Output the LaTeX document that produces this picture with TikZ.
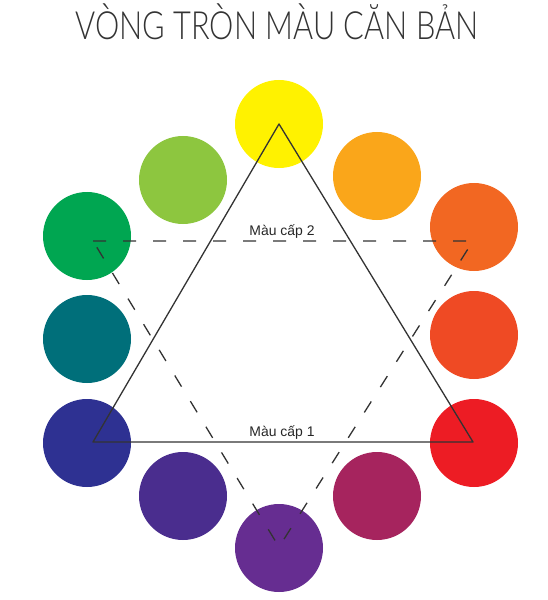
\documentclass[tikz,border=0pt]{standalone}
\usepackage{fontspec}
\setmainfont{Liberation Sans}
\newfontfamily\titlefont{Lato Light}[FakeStretch=0.79]
\definecolor{cyellow}{HTML}{FFF200}
\definecolor{cyellowgreen}{HTML}{8DC63F}
\definecolor{corange}{HTML}{FAA61A}
\definecolor{corangered}{HTML}{F26722}
\definecolor{credorange}{HTML}{EF4A24}
\definecolor{cred}{HTML}{ED1C24}
\definecolor{cmagenta}{HTML}{A6245E}
\definecolor{cpurple}{HTML}{662D91}
\definecolor{cviolet}{HTML}{4A2D8E}
\definecolor{cblue}{HTML}{2E3192}
\definecolor{cteal}{HTML}{006F7A}
\definecolor{cgreen}{HTML}{00A651}
\begin{document}
\begin{tikzpicture}[x=1bp,y=-1bp,line join=round,line cap=round,
	dot/.style={circle,minimum size=88bp,inner sep=0pt,draw=none},
	edge/.style={draw=black!80,line width=1.3bp},
	dash edge/.style={draw=black!80,line width=1.3bp,line cap=butt,dash pattern=on 13bp off 17bp},
	lbl/.style={font=\fontsize{14}{14}\selectfont,text=black!85}]
		\useasboundingbox (0,0) rectangle (548,600);
		\node[font=\titlefont\fontsize{39}{39}\selectfont,text=black!80] (title) at (277,22) {VÒNG TRÒN MÀU CĂN BẢN};
		% vong mau
		\foreach \name/\col/\px/\py in {yellow/cyellow/279/124,orange/corange/377/176,orangered/corangered/474/227,
			redorange/credorange/474/335,red/cred/474/443,magenta/cmagenta/377/496,purple/cpurple/279/548,
			violet/cviolet/183/496,blue/cblue/87/443,teal/cteal/87/339,green/cgreen/87/236,yellowgreen/cyellowgreen/183/180}
		\node[dot,fill=\col] (\name) at (\px,\py) {};
		% tam giac
		\coordinate (p1) at (279,124);
		\coordinate (p2) at (473,442);
		\coordinate (p3) at (93,442);
		\coordinate (q1) at (93,241);
		\coordinate (q2) at (473,241);
		\coordinate (q3) at (279,547);
		\draw[edge] (p1)--(p2)--(p3)--cycle;
		\draw[dash edge] (q1)--(q2)--(q3)--cycle;
		\node[lbl] (cap2) at (282,232) {Màu cấp 2};
		\node[lbl] (cap1) at (282,433) {Màu cấp 1};
		\end{tikzpicture}
\end{document}
